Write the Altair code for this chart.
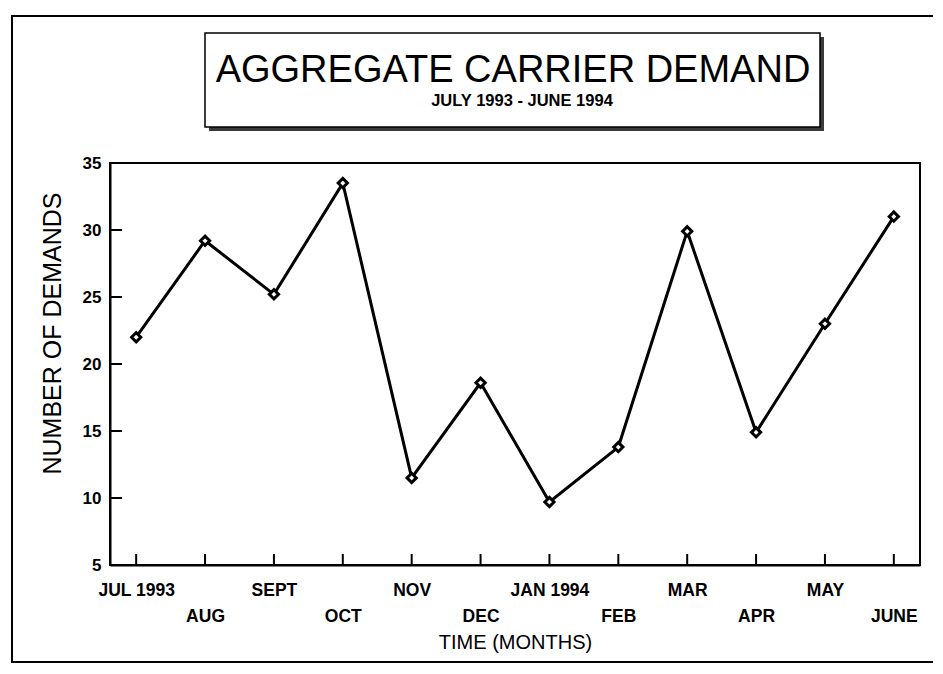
import json
import altair as alt
import pandas as pd

# ---- data ----
months = ["JUL 1993", "AUG", "SEPT", "OCT", "NOV", "DEC",
          "JAN 1994", "FEB", "MAR", "APR", "MAY", "JUNE"]
demands = [22.0, 29.2, 25.2, 33.5, 11.5, 18.6, 9.7, 13.8, 29.9, 14.9, 23.0, 31.0]
y_tick_values = [10, 15, 20, 25, 30]
y_label_values = [5, 10, 15, 20, 25, 30, 35]

title_text = "AGGREGATE CARRIER DEMAND"
subtitle_text = "JULY 1993 - JUNE 1994"
x_title = "TIME (MONTHS)"
y_title = "NUMBER OF DEMANDS"

FONT = "Liberation Sans, Arial, Helvetica, sans-serif"
W, H = 810, 402

df = pd.DataFrame({"month": months, "demand": demands})
ydf = pd.DataFrame({"demand": y_tick_values})
one = pd.DataFrame({"k": [0]})

lower_row = [m for i, m in enumerate(months) if i % 2 == 1]
label_expr = f"indexof({json.dumps(lower_row)}, datum.value) >= 0 ? ['', datum.label] : datum.label"

x_enc = alt.X(
    "month:O", sort=months,
    scale=alt.Scale(type="point", padding=0.38),
    axis=alt.Axis(
        title=x_title, labelAngle=0, labelExpr=label_expr, labelLineHeight=26,
        labelPadding=16, labelOverlap=False, ticks=False, grid=False,
        domainColor="black", domainWidth=2,
        labelFont=FONT, labelFontSize=17.5, labelFontWeight="bold", labelColor="black",
        titleFont=FONT, titleFontSize=20, titleFontWeight="normal", titleColor="black",
        titleY=77, titleBaseline="middle",
    ),
)

y_enc = alt.Y(
    "demand:Q",
    scale=alt.Scale(domain=[5, 35], nice=False, zero=False),
    axis=alt.Axis(
        values=y_label_values, title=y_title, ticks=False, grid=False,
        domainColor="black", domainWidth=2, labelPadding=9,
        labelFont=FONT, labelFontSize=17, labelFontWeight="bold", labelColor="black",
        titleFont=FONT, titleFontSize=25, titleFontWeight="normal", titleColor="black",
        titleX=-58, titleY=170, titleBaseline="middle",
    ),
)

frame = alt.Chart(one).mark_rect(fillOpacity=0, stroke="black", strokeWidth=2).encode(
    x=alt.value(-98), x2=alt.value(860), y=alt.value(-147), y2=alt.value(499)
)
shadow = alt.Chart(one).mark_rect(fill="#3a3a3a").encode(
    x=alt.value(99), x2=alt.value(714), y=alt.value(-126), y2=alt.value(-32)
)
box = alt.Chart(one).mark_rect(fill="white", stroke="black", strokeWidth=1.5).encode(
    x=alt.value(95), x2=alt.value(710), y=alt.value(-130), y2=alt.value(-36)
)
title_mark = alt.Chart(one).mark_text(
    text=title_text, font=FONT, fontSize=38, color="black",
    align="center", baseline="alphabetic"
).encode(x=alt.value(403), y=alt.value(-81))
subtitle_mark = alt.Chart(one).mark_text(
    text=subtitle_text, font=FONT, fontSize=16.5, fontWeight="bold", color="black",
    align="center", baseline="alphabetic"
).encode(x=alt.value(412), y=alt.value(-57))

xticks = alt.Chart(df).mark_rule(color="black", strokeWidth=2).encode(
    x=x_enc, y=alt.value(H - 11), y2=alt.value(H)
)
yticks = alt.Chart(ydf).mark_rule(color="black", strokeWidth=2).encode(
    y=y_enc, x=alt.value(0), x2=alt.value(12)
)
line = alt.Chart(df).mark_line(color="black", strokeWidth=3).encode(x=x_enc, y=y_enc)
pts = alt.Chart(df).mark_point(
    shape="diamond", filled=True, fill="white", stroke="black",
    strokeWidth=3, size=85, opacity=1
).encode(x=x_enc, y=y_enc)

chart = alt.layer(
    frame, shadow, box, title_mark, subtitle_mark, xticks, yticks, line, pts
).properties(
    width=W, height=H,
    background="white",
    padding={"left": 102, "top": 155, "right": 13, "bottom": 98},
    autosize=alt.AutoSizeParams(type="none"),
).configure_view(stroke="black", strokeWidth=2)

chart.save("out.html", embed_options={"renderer": "svg", "actions": False})
